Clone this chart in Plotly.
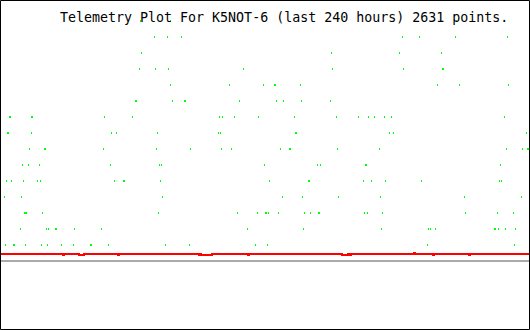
import plotly.graph_objects as go

# ---- data (time index across the 240-hour window, telemetry level) ----
level_15 = [140, 170, 456]
level_14 = [154, 167, 181, 402, 419, 455, 507]
level_13 = [141, 331, 399, 441]
level_12 = [139, 155, 168, 243, 332, 403, 442, 443]
level_11 = [170, 229, 263, 274, 275, 300, 437, 459, 508]
level_10 = [135, 136, 172, 184, 185, 239, 276, 283, 301, 330]
level_9 = [9, 10, 31, 32, 104, 132, 219, 222, 234, 258, 294, 336, 358, 368, 374, 384, 391, 504]
level_8 = [7, 8, 31, 111, 116, 157, 218, 220, 295, 296, 389, 393, 526]
level_7 = [29, 44, 45, 103, 156, 190, 221, 231, 280, 289, 290, 337, 379, 506, 522, 527, 528]
level_6 = [22, 28, 39, 110, 159, 161, 264, 317, 320, 365, 366, 500]
level_5 = [6, 11, 23, 37, 40, 114, 123, 124, 160, 269, 308, 309, 363, 371, 385, 421, 499, 501]
level_4 = [4, 21, 162, 282, 302, 338, 380, 464, 521]
level_3 = [24, 25, 26, 42, 158, 237, 257, 265, 266, 268, 278, 304, 310, 318, 319, 364, 367, 382, 465, 497, 513]
level_2 = [20, 46, 48, 55, 56, 74, 101, 247, 303, 381, 428, 430, 435, 494, 495, 498, 505, 515]
level_1 = [5, 13, 14, 25, 41, 47, 61, 73, 90, 91, 108, 165, 189, 255, 267, 427, 514]

levels = {15: level_15, 14: level_14, 13: level_13, 12: level_12, 11: level_11,
          10: level_10, 9: level_9, 8: level_8, 7: level_7, 6: level_6,
          5: level_5, 4: level_4, 3: level_3, 2: level_2, 1: level_1}

# red trace: step points (value holds until the next time)
red_t = [0.5, 62.5, 63.5, 78.5, 83.5, 117.5, 118.5, 198.5, 199.5, 200.5, 211.5,
         247.5, 248.5, 341.5, 347.5, 349.5, 350.5, 413.5, 414.5, 432.5, 433.5,
         468.5, 469.5, 528.5]
red_v = [0.4375, 0.375, 0.4375, 0.375, 0.4375, 0.375, 0.4375, 0.375, 0.4375, 0.375, 0.4375,
         0.375, 0.4375, 0.375, 0.4375, 0.375, 0.4375, 0.5, 0.4375, 0.375, 0.4375,
         0.375, 0.4375, 0.4375]

base_t = [0.5, 528.5]
base_v = [0.0, 0.0]

title = "Telemetry Plot For K5NOT-6 (last 240 hours) 2631 points."

# ---- figure ----
gx, gy = [], []
for lv, ts in levels.items():
    gx.extend(ts)
    gy.extend([lv] * len(ts))

fig = go.Figure()
fig.add_trace(go.Scatter(x=base_t, y=base_v, mode="lines",
                         line=dict(color="#aaaaaa", width=2), hoverinfo="skip"))
fig.add_trace(go.Scatter(x=red_t, y=red_v, mode="lines",
                         line=dict(color="#ff0000", width=2, shape="hv"), hoverinfo="skip"))
fig.add_trace(go.Scatter(x=gx, y=gy, mode="markers",
                         marker=dict(symbol="line-ns", size=1.43, color="#00ff00",
                                     line=dict(color="#00ff00", width=1)),
                         hoverinfo="skip"))

fig.add_annotation(text=title, xref="paper", yref="paper",
                   x=58 / 530, y=1 - 17 / 330, xanchor="left", yanchor="middle",
                   showarrow=False,
                   font=dict(family="DejaVu Sans Mono", size=13.3, color="black"))

fig.add_shape(type="rect", xref="paper", yref="paper",
              x0=0.5 / 530, x1=529.5 / 530, y0=0.5 / 330, y1=329.5 / 330,
              line=dict(color="black", width=1), fillcolor="rgba(0,0,0,0)")

fig.update_layout(width=530, height=330, margin=dict(l=0, r=0, t=0, b=0),
                  paper_bgcolor="white", plot_bgcolor="white", showlegend=False,
                  xaxis=dict(range=[-0.5, 529.5], visible=False, fixedrange=True),
                  yaxis=dict(range=[-69 / 16, 261 / 16], visible=False, fixedrange=True))

fig.write_html("out.html", config={"displayModeBar": False})
